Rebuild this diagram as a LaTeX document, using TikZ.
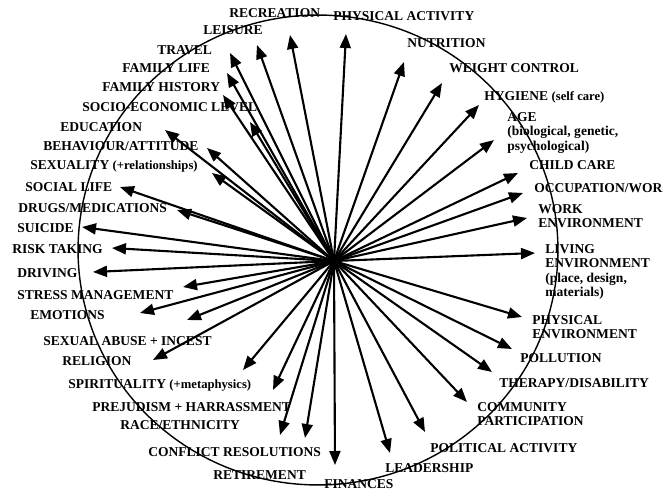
\documentclass[tikz,border=0pt]{standalone}
\usepackage{fontspec}
\setmainfont{Liberation Serif}
\usetikzlibrary{arrows.meta}

\newcommand{\lc}[1]{{\fontsize{7.2}{8}\selectfont #1}}

\begin{document}
\begin{tikzpicture}[x=0.02cm,y=-0.02cm,
    factor/.style ={anchor=west, inner sep=0pt, align=left,
                    font=\bfseries\fontsize{7.7}{8.3}\selectfont},
    link/.style ={line width=1.2pt, -{Triangle[length=2.8mm,width=2.2mm]}},
    hub/.style ={circle, fill, inner sep=0pt, minimum size=4pt}]
   \useasboundingbox (0,0) rectangle (664,490);

   % the big circle
   \draw[line width=0.8pt] (318,250) ellipse [x radius=4.8cm, y radius=4.7cm];

   \node[hub] (hub) at (334,261) {};

   % labels
   \node[factor] (rec)     at (229,13)  {RECREATION};
   \node[factor] (phys)    at (333,16)  {PHYSICAL ACTIVITY};
   \node[factor] (leis)    at (203,30)  {LEISURE};
   \node[factor] (trav)    at (157,50)  {TRAVEL};
   \node[factor] (famlife) at (122,68)  {FAMILY LIFE};
   \node[factor] (famhist) at (102,87)  {FAMILY HISTORY};
   \node[factor] (socio)   at (82,107)  {SOCIO-ECONOMIC LEVEL};
   \node[factor] (edu)     at (60,127)  {EDUCATION};
   \node[factor] (behav)   at (43,146)  {BEHAVIOUR/ATTITUDE};
   \node[factor] (sex)     at (30,166)  {SEXUALITY \lc{(+relationships)}};
   \node[factor] (social)  at (25,187)  {SOCIAL LIFE};
   \node[factor] (drugs)   at (18,208)  {DRUGS/MEDICATIONS};
   \node[factor] (suic)    at (17,228)  {SUICIDE};
   \node[factor] (risk)    at (12,249)  {RISK TAKING};
   \node[factor] (driv)    at (17,273)  {DRIVING};
   \node[factor] (stress)  at (17,295)  {STRESS MANAGEMENT};
   \node[factor] (emot)    at (30,315)  {EMOTIONS};
   \node[factor] (abuse)   at (43,341)  {SEXUAL ABUSE + INCEST};
   \node[factor] (relig)   at (62,361)  {RELIGION};
   \node[factor] (spirit)  at (68,385)  {SPIRITUALITY \lc{(+metaphysics)}};
   \node[factor] (prej)    at (92,407)  {PREJUDISM + HARRASSMENT};
   \node[factor] (race)    at (120,425) {RACE/ETHNICITY};
   \node[factor] (confl)   at (148,452) {CONFLICT RESOLUTIONS};
   \node[factor] (retire)  at (213,475) {RETIREMENT};
   \node[factor] (fin)     at (324,484) {FINANCES};
   \node[factor] (lead)    at (385,468) {LEADERSHIP};
   \node[factor] (polit)   at (430,448) {POLITICAL ACTIVITY};
   \node[factor] (comm)    at (477,414) {COMMUNITY\\PARTICIPATION};
   \node[factor] (ther)    at (499,383) {THERAPY/DISABILITY};
   \node[factor] (poll)    at (520,358) {POLLUTION};
   \node[factor] (physenv) at (532,327) {PHYSICAL\\ENVIRONMENT};
   \node[factor] (living)  at (545,272) {LIVING\\ENVIRONMENT\\(place, design,\\materials)};
   \node[factor] (work)    at (538,216) {WORK\\ENVIRONMENT};
   \node[factor] (occ)     at (534,188) {OCCUPATION/WOR};
   \node[factor] (child)   at (529,165) {CHILD CARE};
   \node[factor] (age)     at (507,133) {AGE\\(biological, genetic,\\psychological)};
   \node[factor] (hyg)     at (484,97)  {HYGIENE \lc{(self care)}};
   \node[factor] (weight)  at (449,68)  {WEIGHT CONTROL};
   \node[factor] (nutr)    at (407,43)  {NUTRITION};

   % arrow tips
   \coordinate (tphys)    at (346,34);
   \coordinate (trec)     at (290,35);
   \coordinate (tleis)    at (257,45);
   \coordinate (ttrav)    at (230,53);
   \coordinate (tfamlife) at (227,73);
   \coordinate (tfamhist) at (223,95);
   \coordinate (tsocio)   at (250,122);
   \coordinate (tedu)     at (165,130);
   \coordinate (tbehav)   at (207,148);
   \coordinate (tsex)     at (212,173);
   \coordinate (tsocial)  at (120,187);
   \coordinate (tdrugs)   at (177,210);
   \coordinate (tsuic)    at (82,227);
   \coordinate (trisk)    at (112,248);
   \coordinate (tdriv)    at (93,272);
   \coordinate (tstress)  at (183,287);
   \coordinate (temot)    at (140,313);
   \coordinate (tabuse)   at (187,320);
   \coordinate (trelig)   at (153,360);
   \coordinate (tspirit)  at (243,370);
   \coordinate (tprej)    at (273,390);
   \coordinate (trace)    at (280,435);
   \coordinate (tconfl)   at (305,438);
   \coordinate (tfin)     at (335,465);
   \coordinate (tlead)    at (390,453);
   \coordinate (tpolit)   at (425,432);
   \coordinate (tcomm)    at (467,402);
   \coordinate (tther)    at (492,372);
   \coordinate (tpoll)    at (512,349);
   \coordinate (tphysenv) at (522,317);
   \coordinate (tliving)  at (535,253);
   \coordinate (twork)    at (527,218);
   \coordinate (tocc)     at (523,193);
   \coordinate (tchild)   at (518,173);
   \coordinate (tage)     at (494,140);
   \coordinate (thyg)     at (479,105);
   \coordinate (tweight)  at (442,83);
   \coordinate (tnutr)    at (404,62);

   \draw[link] (hub.center) to (tphys);
   \draw[link] (hub.center) to (trec);
   \draw[link] (hub.center) to (tleis);
   \draw[link] (hub.center) to (ttrav);
   \draw[link] (hub.center) to (tfamlife);
   \draw[link] (hub.center) to (tfamhist);
   \draw[link] (hub.center) to (tsocio);
   \draw[link] (hub.center) to (tedu);
   \draw[link] (hub.center) to (tbehav);
   \draw[link] (hub.center) to (tsex);
   \draw[link] (hub.center) to (tsocial);
   \draw[link] (hub.center) to (tdrugs);
   \draw[link] (hub.center) to (tsuic);
   \draw[link] (hub.center) to (trisk);
   \draw[link] (hub.center) to (tdriv);
   \draw[link] (hub.center) to (tstress);
   \draw[link] (hub.center) to (temot);
   \draw[link] (hub.center) to (tabuse);
   \draw[link] (hub.center) to (trelig);
   \draw[link] (hub.center) to (tspirit);
   \draw[link] (hub.center) to (tprej);
   \draw[link] (hub.center) to (trace);
   \draw[link] (hub.center) to (tconfl);
   \draw[link] (hub.center) to (tfin);
   \draw[link] (hub.center) to (tlead);
   \draw[link] (hub.center) to (tpolit);
   \draw[link] (hub.center) to (tcomm);
   \draw[link] (hub.center) to (tther);
   \draw[link] (hub.center) to (tpoll);
   \draw[link] (hub.center) to (tphysenv);
   \draw[link] (hub.center) to (tliving);
   \draw[link] (hub.center) to (twork);
   \draw[link] (hub.center) to (tocc);
   \draw[link] (hub.center) to (tchild);
   \draw[link] (hub.center) to (tage);
   \draw[link] (hub.center) to (thyg);
   \draw[link] (hub.center) to (tweight);
   \draw[link] (hub.center) to (tnutr);
 \end{tikzpicture}
\end{document}
